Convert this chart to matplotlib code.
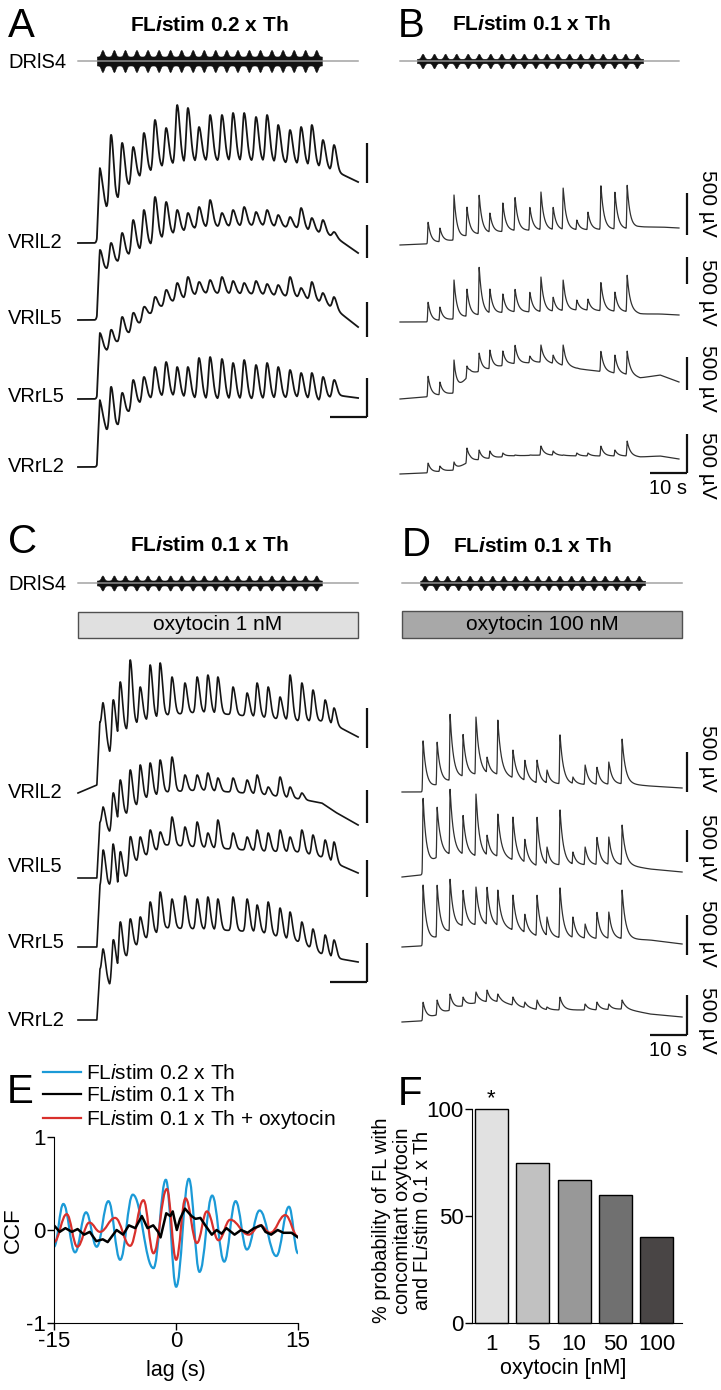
import matplotlib.pyplot as plt
import numpy as np
from matplotlib.lines import Line2D
from matplotlib.patches import PathPatch, Rectangle
from matplotlib.path import Path

W, H = 721, 1390
PX_S = 3.7  # pixels per second in the trace panels

plt.rcParams["font.family"] = ["Liberation Sans", "DejaVu Sans"]
plt.rcParams["mathtext.fontset"] = "custom"
plt.rcParams["mathtext.rm"] = "Liberation Sans"
plt.rcParams["mathtext.it"] = "Liberation Sans:italic"
plt.rcParams["mathtext.bf"] = "Liberation Sans:italic:bold"

# ---------------------------------------------------------------- data
roots = ["VRlL2", "VRlL5", "VRrL5", "VRrL2"]

# stimulation bursts on DRlS4 (s)
stim_ac = [6.6, 9.7, 12.7, 15.8, 18.8, 21.8, 24.9, 27.9, 31.0, 34.0,
           37.1, 40.1, 43.1, 46.2, 49.2, 52.3, 55.3, 58.3, 61.4, 64.4]
stim_bd = [6.1, 9.2, 12.2, 15.2, 18.3, 21.3, 24.4, 27.4, 30.5, 33.5,
           36.6, 39.6, 42.6, 45.7, 48.7, 51.8, 54.8, 57.9, 60.9, 64.0]

# A and C: heights above pre-stim baseline (display units, 40 ~ 500 uV)
env_t_ac = [0, 5.1, 5.9, 8.6, 11.4, 14.9, 18.6, 24.1, 33.0, 49.2, 60.0, 65.9, 69.5, 75.7]

bursts_a = [5.9, 8.9, 11.9, 14.9, 17.8, 20.8, 23.8, 26.8, 29.7, 32.7, 35.7,
            38.9, 41.9, 44.9, 48.1, 51.1, 54.1, 57.3, 60.3, 63.2, 66.2, 69.2]
env_a = [
    [0, 0, 50, 28, 48, 62, 70, 78, 82, 82, 79, 76, 72, 61],
    [0, 0, 47, 53, 60, 68, 73, 85, 93, 95, 92, 87, 83, 67],
    [0, 0, 50, 48, 60, 69, 83, 96, 106, 105, 102, 97, 90, 72],
    [0, 0, 55, 28, 45, 60, 68, 72, 68, 68, 70, 66, 72, 69],
]
peaks_a = [
    [75, 108, 100, 96, 110, 123, 115, 138, 135, 116, 128, 128, 130, 130, 126, 128, 118, 113, 116, 118, 103, 98],
    [70, 77, 87, 100, 110, 123, 118, 110, 107, 113, 120, 107, 110, 113, 108, 110, 105, 103, 112, 102, 100, 88],
    [66, 69, 82, 86, 92, 102, 109, 116, 122, 117, 119, 122, 118, 116, 118, 115, 114, 122, 111, 117, 106, 102],
    [67, 80, 74, 87, 90, 100, 105, 100, 100, 109, 110, 108, 104, 107, 102, 104, 100, 97, 94, 94, 90, 87],
]

bursts_c = [6.8, 9.5, 11.4, 14.1, 16.8, 19.5, 22.2, 25.4, 28.9, 32.2, 35.1,
            37.8, 41.9, 45.7, 48.4, 51.4, 54.6, 57.3, 60.5, 63.5, 66.8, 69.2]
env_c = [
    [0, 8, 70, 40, 58, 68, 73, 78, 81, 76, 72, 72, 68, 56],
    [0, 0, 55, 46, 58, 70, 80, 86, 88, 84, 79, 75, 66, 53],
    [0, 0, 60, 62, 57, 84, 92, 102, 100, 96, 95, 90, 84, 74],
    [0, 0, 50, 35, 55, 72, 82, 92, 91, 88, 78, 66, 62, 58],
]
peaks_c = [
    [90, 93, 111, 133, 106, 128, 130, 116, 110, 116, 118, 116, 106, 100, 110, 106, 96, 118, 110, 103, 93, 85],
    [71, 85, 98, 108, 113, 115, 118, 121, 103, 103, 105, 100, 100, 98, 103, 91, 101, 91, 85, 75, 70, 65],
    [97, 103, 95, 110, 110, 117, 115, 130, 120, 125, 114, 127, 114, 110, 117, 114, 117, 110, 117, 112, 107, 105],
    [71, 80, 98, 101, 103, 118, 128, 121, 124, 121, 123, 121, 123, 121, 115, 118, 112, 108, 98, 91, 85, 80],
]

# B and D: episodic bursts
env_t_b = [0, 6.8, 14.9, 18.9, 29.7, 39.2, 48.6, 62.2, 64.9, 70.3, 75.4]
bursts_b = [7.6, 10.8, 14.6, 18.1, 21.4, 24.3, 27.8, 31.1, 35.1, 38.1, 41.4,
            44.1, 47.8, 50.8, 54.3, 58.1, 61.4]
env_b = [
    [0, 1, 5, 10, 14, 15, 15, 16, 18, 18, 17],
    [0, 0, 3, 6, 10, 10, 12, 10, 8, 8, 7],
    [0, 2, 6, 25, 35, 37, 30, 24, 21, 24, 17],
    [0, 1, 4, 13, 18, 19, 18, 18, 17, 18, 15],
]
peaks_b = [
    [23, 17, 50, 38, 50, 32, 42, 48, 38, 53, 38, 57, 25, 33, 60, 53, 60],
    [20, 15, 42, 33, 55, 33, 28, 33, 30, 45, 25, 42, 22, 23, 40, 30, 47],
    [23, 17, 39, 33, 46, 49, 48, 54, 43, 54, 44, 54, 31, 26, 48, 44, 48],
    [11, 8, 12, 26, 24, 23, 21, 19, 19, 28, 23, 19, 21, 21, 28, 24, 33],
]

env_t_d = [0, 5.1, 10.3, 15.7, 21.1, 26.5, 31.9, 37.3, 42.7, 53.5, 60.3, 67.0, 75.7]
bursts_d = [5.7, 9.5, 13.0, 16.5, 20.0, 23.0, 25.9, 30.0, 33.2, 36.5, 39.2,
            42.7, 46.2, 49.5, 52.7, 55.9, 59.5]
env_d = [
    [0, 0, 8, 14, 18, 17, 12, 8, 8, 7, 8, 6, 4],
    [0, 2, 22, 22, 20, 20, 15, 10, 12, 12, 12, 8, 5],
    [0, 1, 11, 20, 22, 20, 15, 10, 9, 8, 8, 7, 3],
    [0, 1, 8, 15, 20, 20, 15, 12, 12, 12, 13, 8, 5],
]
peaks_d = [
    [52, 50, 78, 58, 75, 35, 72, 42, 32, 32, 22, 58, 15, 27, 25, 30, 53],
    [80, 70, 88, 62, 83, 42, 63, 60, 38, 60, 30, 68, 25, 30, 40, 40, 52],
    [63, 62, 68, 57, 60, 60, 57, 52, 33, 52, 30, 60, 30, 23, 35, 35, 57],
    [20, 22, 28, 25, 30, 32, 28, 25, 20, 22, 15, 25, 12, 18, 20, 18, 22],
]

# E: cross-correlation, extrema (lag s, CCF)
ccf_02_lag = [-15, -13.85, -12.41, -11.06, -9.75, -8.31, -6.87, -5.31, -2.77, -1.25,
              0.02, 1.58, 2.89, 4.45, 5.93, 7.33, 8.72, 10.28, 12.33, 13.89, 15]
ccf_02 = [-0.18, 0.28, -0.24, 0.19, -0.18, 0.31, -0.32, 0.38, -0.41, 0.54,
          -0.61, 0.55, -0.45, 0.37, -0.34, 0.31, -0.21, 0.21, -0.28, 0.25, -0.25]
ccf_oxy_lag = [-15, -13.44, -12.13, -10.65, -9.34, -7.49, -5.64, -4.0, -2.77, -1.13,
               0.02, 1.17, 2.57, 3.80, 5.23, 6.67, 8.93, 10.36, 11.59, 13.44, 15]
ccf_oxy = [-0.13, 0.17, -0.18, 0.08, -0.02, 0.13, -0.17, 0.32, -0.25, 0.44,
           -0.32, 0.34, -0.14, 0.20, -0.11, 0.11, -0.05, 0.05, -0.03, 0.16, -0.07]
ccf_01_lag = [-15, -14.3, -13.6, -12.8, -12.1, -11.3, -10.6, -9.8, -9.0, -8.4, -7.3,
              -6.5, -5.8, -5.0, -4.2, -3.5, -2.8, -2.2, -1.9, -1.2, -0.7, -0.4, 0.1,
              0.5, 1.1, 1.9, 2.4, 3.0, 3.6, 4.4, 5.0, 5.6, 6.2, 7.2, 8.0, 8.8, 9.6,
              10.5, 11.0, 11.7, 12.5, 13.2, 14.2, 15]
ccf_01 = [0.05, -0.02, 0.02, -0.02, 0.01, -0.05, -0.02, -0.12, -0.10, -0.13, 0.0,
          -0.05, 0.05, 0.02, 0.15, 0.02, 0.05, -0.02, -0.08, 0.18, 0.15, 0.20, 0.0,
          0.12, 0.23, 0.15, 0.12, 0.13, 0.05, -0.05, 0.0, -0.04, 0.02, -0.05, 0.0,
          -0.03, 0.02, 0.05, -0.02, -0.05, 0.0, -0.03, -0.03, -0.08]

# F: probability of fictive locomotion
oxy_conc = ["1", "5", "10", "50", "100"]
fl_prob = [100, 75, 67, 60, 40]
bar_colors = ["#e1e1e1", "#c1c1c1", "#989898", "#707070", "#494545"]

# ---------------------------------------------------------------- helpers
fig = plt.figure(figsize=(W / 100, H / 100), dpi=100)


def put(x, y, s, **kw):
    return fig.text(x / W, 1 - y / H, s, **kw)


def trace_axes(x0, x1, y0, y1, t0_px):
    ax = fig.add_axes([x0 / W, 1 - y1 / H, (x1 - x0) / W, (y1 - y0) / H])
    ax.set_xlim((x0 - t0_px) / PX_S, (x1 - t0_px) / PX_S)
    ax.set_ylim(-y1, -y0)
    ax.axis("off")
    return ax


def slow_wave(t, bursts, peaks, kt, kv, rise, fall):
    env = np.interp(t, kt, kv)
    env_at = np.interp(bursts, kt, kv)
    top = np.zeros_like(t)
    for tk, pk, ek in zip(bursts, peaks, env_at):
        dt = t - tk
        w = np.where(dt < 0, rise, fall)
        top = np.maximum(top, max(pk - ek, 0) * np.exp(-(dt / w) ** 2))
    return env + top


def spikes(t, bursts, peaks, kt, kv, rise, fall):
    env = np.interp(t, kt, kv)
    env_at = np.interp(bursts, kt, kv)
    top = np.zeros_like(t)
    for tk, pk, ek in zip(bursts, peaks, env_at):
        dt = t - tk
        shape = np.where(dt < 0, np.exp(-(dt / rise) ** 2), np.exp(-np.clip(dt, 0, None) / fall))
        top = np.maximum(top, max(pk - ek, 0) * shape)
    return env + top


def draw_stim(ax, t, base_px, centers, on, off, half, bump):
    ax.plot(t, np.full_like(t, -base_px), color="#9a9a9a", lw=1.0)
    env = np.zeros_like(t)
    for c in centers:
        env = np.maximum(env, bump * np.exp(-((t - c) / 0.55) ** 2))
    env = np.where((t >= on) & (t <= off), half + env, 0)
    ax.fill_between(t, -base_px - env, -base_px + env, color="#111111", lw=0.4,
                    edgecolor="#111111", where=env > 0)


def scale_bars(ax, t_bar, bars, color="#111111"):
    for top, bot in bars:
        ax.plot([t_bar, t_bar], [-bot, -top], color=color, lw=1.6, solid_capstyle="butt")
    bot = bars[-1][1]
    ax.plot([t_bar - 10, t_bar], [-bot, -bot], color=color, lw=1.6, solid_capstyle="butt")


def title(x, y, s):
    put(x, y, s, fontsize=15, fontweight="bold", ha="center", va="baseline")


def letter(x, y, s):
    put(x, y, s, fontsize=29, ha="left", va="baseline")


# ---------------------------------------------------------------- A
t_ac = np.linspace(0, 75.7, 2000)
ax_a = trace_axes(50, 380, 40, 490, 78)
draw_stim(ax_a, t_ac, 61, stim_ac, 5.1, 65.9, 4.5, 6.5)
for base, kv, pk in zip([243, 320, 399, 467], env_a, peaks_a):
    y = slow_wave(t_ac, bursts_a, pk, env_t_ac, kv, 0.6, 1.0)
    ax_a.plot(t_ac, y - base, color="#151515", lw=1.3)
scale_bars(ax_a, (367 - 78) / PX_S, [(143, 183), (225, 258), (302, 337), (378, 417)])

letter(8, 37, "A")
title(209, 31, r"FL$\mathbf{i}$stim 0.2 x Th")
put(8, 62, "DRlS4", fontsize=14.5, va="center")
for base, name in zip([243, 318, 397, 466], roots):
    put(8, base, name, fontsize=14.5, va="center")

# ---------------------------------------------------------------- B
t_b = np.linspace(0, 75.4, 2000)
ax_b = trace_axes(390, 700, 40, 500, 400)
draw_stim(ax_b, t_b, 61, stim_bd, 4.6, 65.7, 2.2, 5.0)
for base, kv, pk in zip([245, 322, 399, 474], env_b, peaks_b):
    y = spikes(t_b, bursts_b, pk, env_t_b, kv, 0.15, 0.8)
    ax_b.plot(t_b, y - base, color="#303030", lw=0.9)
scale_bars(ax_b, (687 - 400) / PX_S, [(193, 235), (257, 284), (357, 390), (434, 473)])

letter(398, 37, "B")
title(531, 30, r"FL$\mathbf{i}$stim 0.1 x Th")
for yc in [203, 292, 378, 465]:
    put(708, yc, "500 µV", fontsize=15, rotation=-90, ha="center", va="center")
put(668, 488, "10 s", fontsize=14.5, ha="center", va="center")

# ---------------------------------------------------------------- C
ax_c = trace_axes(50, 380, 565, 1045, 78)
draw_stim(ax_c, t_ac, 583, stim_ac, 5.1, 65.9, 2.5, 5.0)
for base, kv, pk in zip([793, 878, 947, 1020], env_c, peaks_c):
    y = slow_wave(t_ac, bursts_c, pk, env_t_ac, kv, 0.5, 0.9)
    ax_c.plot(t_ac, y - base, color="#151515", lw=1.2)
scale_bars(ax_c, (367 - 78) / PX_S, [(708, 748), (790, 823), (860, 897), (943, 982)])
ax_c.add_patch(Rectangle((t_ac[0], -638), t_ac[-1] - t_ac[0], 26, facecolor="#e0e0e0",
                         edgecolor="#505050", lw=1.0))
ax_c.text(t_ac.mean(), -625, "oxytocin 1 nM", fontsize=15, ha="center", va="center")

letter(8, 553, "C")
title(209, 551, r"FL$\mathbf{i}$stim 0.1 x Th")
put(8, 584, "DRlS4", fontsize=14.5, va="center")
for base, name in zip([793, 866, 943, 1020], roots):
    put(8, base, name, fontsize=14.5, va="center")

# ---------------------------------------------------------------- D
t_d = np.linspace(0, 75.7, 2000)
ax_d = trace_axes(390, 700, 565, 1045, 402)
draw_stim(ax_d, t_d, 583, stim_bd, 4.9, 65.7, 2.2, 5.0)
for base, kv, pk in zip([792, 877, 947, 1022], env_d, peaks_d):
    y = spikes(t_d, bursts_d, pk, env_t_d, kv, 0.15, 0.9)
    ax_d.plot(t_d, y - base, color="#303030", lw=0.9)
scale_bars(ax_d, (687 - 402) / PX_S, [(752, 792), (830, 862), (915, 955), (995, 1035)])
ax_d.add_patch(Rectangle((t_d[0], -638), t_d[-1] - t_d[0], 27, facecolor="#a8a8a8",
                         edgecolor="#505050", lw=1.0))
ax_d.text(t_d.mean(), -624.5, "oxytocin 100 nM", fontsize=15, ha="center", va="center")

letter(402, 556, "D")
title(532, 552, r"FL$\mathbf{i}$stim 0.1 x Th")
for yc in [758, 847, 933, 1020]:
    put(708, yc, "500 µV", fontsize=15, rotation=-90, ha="center", va="center")
put(668, 1050, "10 s", fontsize=14.5, ha="center", va="center")

# ---------------------------------------------------------------- E
blue, red = "#1b9ad7", "#d9302c"


def smooth_path(xs, ys):
    verts = [(xs[0], ys[0])]
    codes = [Path.MOVETO]
    for i in range(1, len(xs)):
        d = (xs[i] - xs[i - 1]) * 0.4
        verts += [(xs[i - 1] + d, ys[i - 1]), (xs[i] - d, ys[i]), (xs[i], ys[i])]
        codes += [Path.CURVE4] * 3
    return Path(verts, codes)


ax_e = fig.add_axes([54 / W, 1 - 1323 / H, 244 / W, 186 / H])
ax_e.add_patch(PathPatch(smooth_path(ccf_02_lag, ccf_02), fill=False, edgecolor=blue, lw=1.6))
ax_e.add_patch(PathPatch(smooth_path(ccf_oxy_lag, ccf_oxy), fill=False, edgecolor=red, lw=1.6))
ax_e.plot(ccf_01_lag, ccf_01, color="black", lw=1.8)
ax_e.set_xlim(-15, 15)
ax_e.set_ylim(-1, 1)
for s in ["top", "right"]:
    ax_e.spines[s].set_visible(False)
ax_e.set_xticks([-15, 0, 15], ["-15", "0", "15"])
ax_e.set_yticks([-1, 0, 1], ["-1", "0", "1"])
ax_e.tick_params(length=5, width=1, labelsize=16, pad=1)
ax_e.set_ylabel("CCF", fontsize=16)
ax_e.yaxis.set_label_coords(-0.125, 0.5)
ax_e.set_xlabel("lag (s)", fontsize=15.5)
ax_e.xaxis.set_label_coords(0.5, -0.2)
handles = [Line2D([], [], color=blue, lw=1.6), Line2D([], [], color="black", lw=1.6),
           Line2D([], [], color=red, lw=1.6)]
labels = [r"FL$\mathit{i}$stim 0.2 x Th", r"FL$\mathit{i}$stim 0.1 x Th",
          r"FL$\mathit{i}$stim 0.1 x Th + oxytocin"]
fig.legend(handles, labels, loc="upper left", bbox_to_anchor=(43 / W, 1 - 1064 / H),
           frameon=False, fontsize=15, handlelength=1.8, handletextpad=0.25,
           labelspacing=0.15, borderpad=0, borderaxespad=0)
letter(7, 1103, "E")

# ---------------------------------------------------------------- F
ax_f = fig.add_axes([472 / W, 1 - 1323 / H, 210 / W, 214 / H])
xpos = np.arange(len(oxy_conc))
bars = ax_f.bar(xpos, fl_prob, width=0.8, color=bar_colors, edgecolor="black", lw=1)
for b in bars:
    b.set_clip_on(False)
ax_f.set_xlim(-0.473, 4.618)
ax_f.set_ylim(0, 100)
for s in ["top", "right"]:
    ax_f.spines[s].set_visible(False)
ax_f.set_xticks(xpos, oxy_conc)
ax_f.set_yticks([0, 50, 100])
ax_f.tick_params(axis="y", length=5, width=1, labelsize=16, pad=1)
ax_f.tick_params(axis="x", length=0, labelsize=16, pad=8)
ax_f.text(0, fl_prob[0], "*", fontsize=16, ha="center", va="bottom")
ax_f.set_ylabel("% probability of FL with\nconcomitant oxytocin\n" + r"and FL$\mathit{i}$stim 0.1 x Th",
                fontsize=14.3, linespacing=1.1)
ax_f.yaxis.set_label_coords(-0.19, 0.48)
ax_f.set_xlabel("oxytocin [nM]", fontsize=15.5)
ax_f.xaxis.set_label_coords(0.433, -0.165)
letter(398, 1105, "F")

fig.savefig("out.png", dpi=100)
